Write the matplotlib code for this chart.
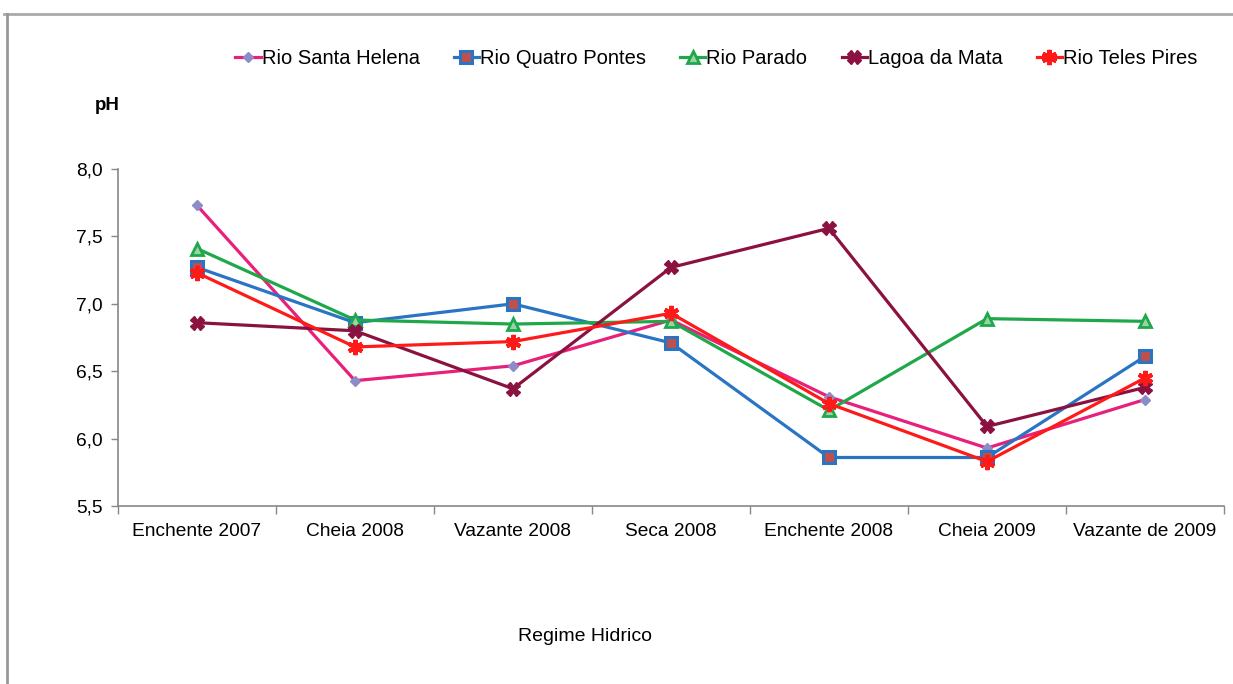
import matplotlib
matplotlib.use("Agg")
import matplotlib.pyplot as plt
from matplotlib.lines import Line2D

plt.rcParams['font.family'] = ['Liberation Sans', 'DejaVu Sans']

categories = ["Enchente 2007", "Cheia 2008", "Vazante 2008", "Seca 2008",
              "Enchente 2008", "Cheia 2009", "Vazante de 2009"]

santa_helena = [7.73, 6.43, 6.54, 6.88, 6.31, 5.93, 6.29]
quatro_pontes = [7.27, 6.86, 7.00, 6.71, 5.86, 5.86, 6.61]
parado = [7.41, 6.88, 6.85, 6.87, 6.21, 6.89, 6.87]
lagoa_mata = [6.86, 6.80, 6.37, 7.27, 7.56, 6.09, 6.38]
teles_pires = [7.23, 6.68, 6.72, 6.93, 6.26, 5.83, 6.45]

series_names = ["Rio Santa Helena", "Rio Quatro Pontes", "Rio Parado",
                "Lagoa da Mata", "Rio Teles Pires"]

yticks = [5.5, 6.0, 6.5, 7.0, 7.5, 8.0]
ytick_labels = ["5,5", "6,0", "6,5", "7,0", "7,5", "8,0"]

fig = plt.figure(figsize=(12.33, 6.84), dpi=100)
ax = fig.add_axes([0.0957, 0.2602, 0.8970, 0.4927])

x = list(range(len(categories)))

styles = [
    dict(color="#E8207A", marker="D", markersize=5, markerfacecolor="#8C8CC8",
         markeredgecolor="#8C8CC8"),
    dict(color="#2A74C4", marker="s", markersize=8, markerfacecolor="#C0504D",
         markeredgecolor="#2A74C4", markeredgewidth=2.2),
    dict(color="#1FA84A", marker="^", markersize=9, markerfacecolor="#9BD3A8",
         markeredgecolor="#1FA84A", markeredgewidth=2.0),
    dict(color="#8B1240", marker="X", markersize=10, markerfacecolor="#8B1240",
         markeredgecolor="#8B1240"),
    dict(color="#FF1A1A", marker=(6, 2, 0), markersize=11,
         markeredgecolor="#FF1A1A", markeredgewidth=3),
]

data = [santa_helena, quatro_pontes, parado, lagoa_mata, teles_pires]
for name, vals, st in zip(series_names, data, styles):
    ax.plot(x, vals, linewidth=2.3, label=name, **st)

ax.set_xlim(-0.5, len(categories) - 0.5)
ax.set_ylim(5.5, 8.0)
ax.set_yticks(yticks)
ax.set_yticklabels(ytick_labels)
ax.set_xticks(x)
ax.set_xticklabels(categories)
ax.set_xticks([i - 0.5 for i in range(len(categories) + 1)], minor=True)
ax.tick_params(axis='x', which='major', length=0, pad=12, labelsize=13.8)
ax.tick_params(axis='x', which='minor', length=6, color="#888888", width=1)
ax.tick_params(axis='y', length=5, color="#888888", width=1, labelsize=13.8, pad=6)

for s in ["top", "right"]:
    ax.spines[s].set_visible(False)
for s in ["left", "bottom"]:
    ax.spines[s].set_color("#888888")
    ax.spines[s].set_linewidth(1.2)

fig.text(0.0868, 0.846, "pH", fontsize=13.5, fontweight="bold", ha="center", va="center")
fig.text(0.4745, 0.070, "Regime Hidrico", fontsize=14, ha="center", va="center")

leg = fig.legend(loc="center", bbox_to_anchor=(0.581, 0.915), ncol=5, frameon=False,
                 fontsize=14.5, handlelength=1.25, handletextpad=0.05, columnspacing=1.7)

# outer frame lines (top and left)
fig.add_artist(Line2D([0.003, 1.0], [1 - 14 / 684, 1 - 14 / 684], transform=fig.transFigure,
                      color="#AAAAAA", linewidth=2))
fig.add_artist(Line2D([0.006, 0.006], [0.0, 1 - 14 / 684], transform=fig.transFigure,
                      color="#999999", linewidth=2))

fig.savefig("out.png", dpi=100)
